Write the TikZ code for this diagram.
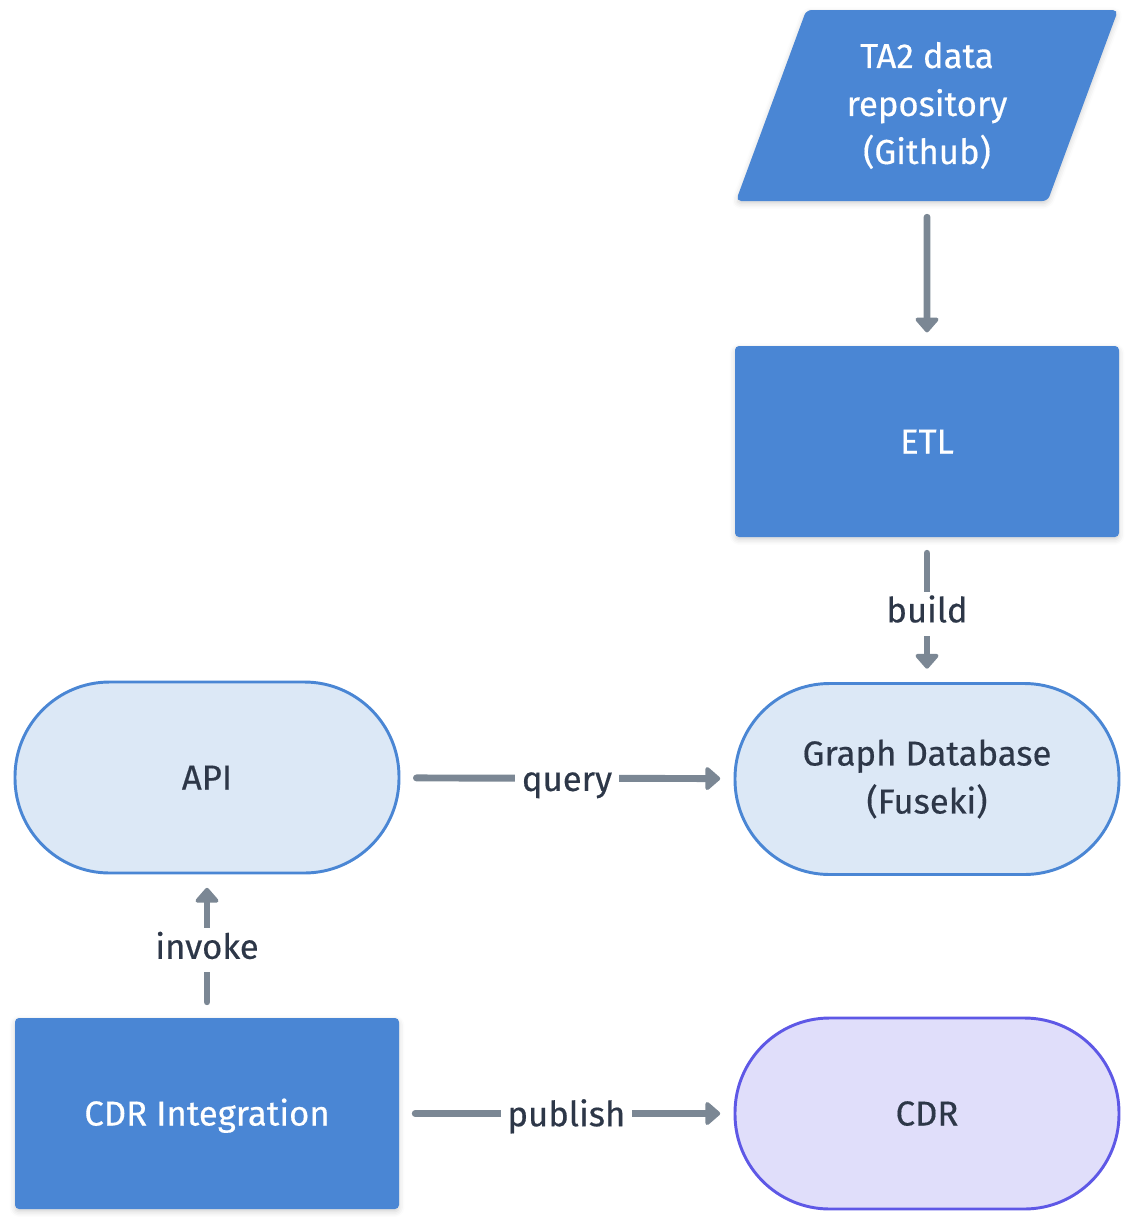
\documentclass[tikz,border=0pt]{standalone}
\usepackage{fontspec}
\setmainfont{Fira Sans}[FakeBold=0.4]
\usetikzlibrary{shapes.geometric}
\usetikzlibrary{arrows.meta}
\usetikzlibrary{shadows.blur}
\definecolor{boxblue}{HTML}{4A86D4}
\definecolor{paleblue}{HTML}{DCE8F6}
\definecolor{palepurple}{HTML}{E0DEFA}
\definecolor{linepurple}{HTML}{5E58E6}
\definecolor{arrowgray}{HTML}{7B8794}
\definecolor{textdark}{HTML}{2D3748}
\tikzset{
    boxfont/.style = {font=\fontsize{26}{36}\selectfont, align=center},
    oneline/.style = {text height=18pt, text depth=0pt},
    softshadow/.style = {blur shadow={shadow xshift=0pt, shadow yshift=-2pt, shadow blur radius=4pt, shadow opacity=18}},
    procbox/.style = {rectangle, boxfont, oneline, fill=boxblue, text=white, rounded corners=3pt, minimum width=288pt, minimum height=143.25pt, softshadow},
    inputbox/.style = {trapezium, trapezium left angle=70, trapezium right angle=110, trapezium stretches=true, boxfont, fill=boxblue, text=white, rounded corners=4pt, minimum width=287pt, minimum height=143.25pt, softshadow},
    stornode/.style = {rectangle, boxfont, rounded corners=71pt, line width=2.2pt, draw=boxblue, fill=paleblue, text=textdark, minimum width=288pt, minimum height=143.25pt},
    cdrnode/.style = {stornode, oneline, draw=linepurple, fill=palepurple},
    edgeg/.style = {-{Triangle[length=12pt,width=20pt,round]}, line width=5.2pt, line cap=round, arrowgray, shorten <=12pt, shorten >=10pt},
    elabel/.style = {fill=white, inner xsep=5pt, inner ysep=4pt, text height=19pt, text depth=6pt, yshift=-3pt, text=textdark, font=\fontsize{26}{36}\selectfont}
}

\begin{document}
\begin{tikzpicture}[x=0.75pt, y=-0.75pt]
  \useasboundingbox (0,0) rectangle (1128,1222);

  \node[inputbox] (repo) at (927,105.5) {TA2 data\\repository\\(Github)};
  \node[procbox]  (etl)    at (927,441.5)  {ETL};
  \node[stornode] (graph)  at (927,779)    {Graph Database\\(Fuseki)};
  \node[stornode, oneline] (api) at (207,777.5) {API};
  \node[procbox]  (cdrint) at (207,1113.5) {CDR Integration};
  \node[cdrnode]  (cdr)    at (927,1113.5) {CDR};

  \draw[edgeg] (repo) -- (etl);
  \draw[edgeg] (etl) -- node[elabel] (build) {build} (graph);
  \draw[edgeg] (api) -- node[elabel] (query) {query} (graph);
  \draw[edgeg] (cdrint) -- node[elabel] (invoke) {invoke} (api);
  \draw[edgeg] (cdrint) -- node[elabel] (publish) {publish} (cdr);

\end{tikzpicture}
\end{document}
